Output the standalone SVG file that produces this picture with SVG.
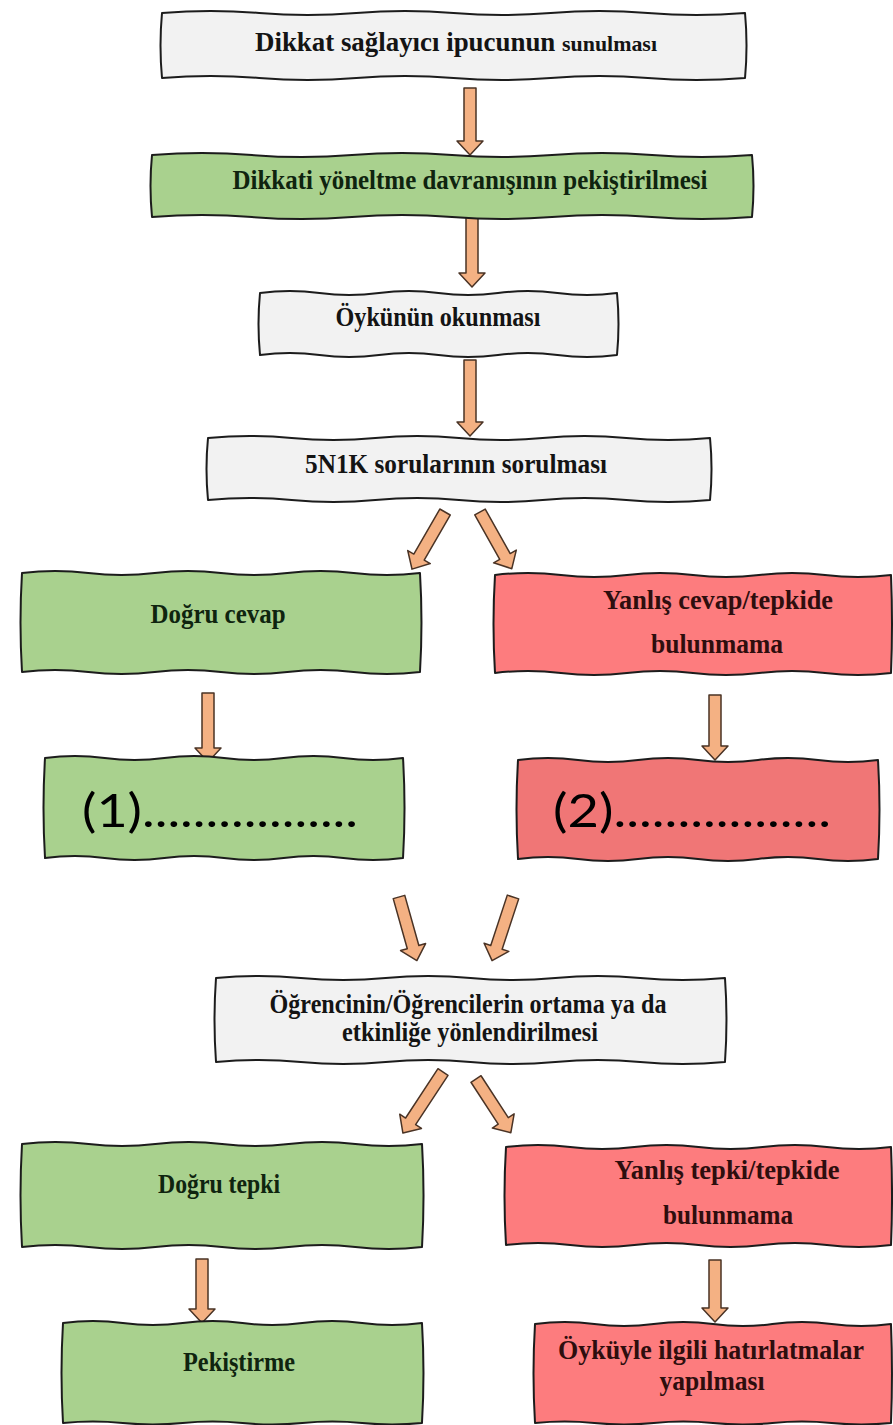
<svg xmlns="http://www.w3.org/2000/svg" width="893" height="1425" viewBox="0 0 893 1425">
<style>
.box{stroke:#1c1c1c;stroke-width:2;stroke-linejoin:round}
.gray{fill:#f2f2f2}
.green{fill:#a9d18e}
.red{fill:#fd7c7e}
.red2{fill:#f07676}
.t{font-family:"Liberation Serif","Times New Roman",serif;font-weight:bold;font-size:27px;text-anchor:middle}
.tg{fill:#141414}
.tgr{fill:#0f240f}
.tr{fill:#2e0e0e}
.big{font-family:"Lato","Open Sans","Liberation Sans",sans-serif;font-size:46px;fill:#000}
.arrow{fill:#f4b183;stroke:#4a3325;stroke-width:1.5;stroke-linejoin:round}
</style>
<rect width="893" height="1425" fill="#ffffff"/>

<g id="connectors">
<path class="arrow" d="M464,88 L476,88 L476,141 L483,141 L470,155 L457,141 L464,141 Z"/>
<path class="arrow" d="M466,217 L478,217 L478,273 L485,273 L472,287 L459,273 L466,273 Z"/>
<path class="arrow" d="M464,360 L476,360 L476,422 L483,422 L470,436 L457,422 L464,422 Z"/>
<path class="arrow" transform="translate(445,512) rotate(30)" d="M-6,0 L6,0 L6,52 L13,52 L0,66 L-13,52 L-6,52 Z"/>
<path class="arrow" transform="translate(480,512) rotate(-29.3)" d="M-6,0 L6,0 L6,51 L13,51 L0,65 L-13,51 L-6,51 Z"/>
<path class="arrow" d="M202,693 L214,693 L214,748 L221,748 L208,762 L195,748 L202,748 Z"/>
<path class="arrow" d="M709,695 L721,695 L721,746 L728,746 L715,760 L702,746 L709,746 Z"/>
<path class="arrow" transform="translate(399,897) rotate(-15.7)" d="M-6,0 L6,0 L6,52 L13,52 L0,66 L-13,52 L-6,52 Z"/>
<path class="arrow" transform="translate(513,897) rotate(18.2)" d="M-6,0 L6,0 L6,53 L13,53 L0,67 L-13,53 L-6,53 Z"/>
<path class="arrow" transform="translate(443,1072) rotate(33.3)" d="M-6,0 L6,0 L6,59 L13,59 L0,73 L-13,59 L-6,59 Z"/>
<path class="arrow" transform="translate(476,1079) rotate(-33)" d="M-6,0 L6,0 L6,50 L13,50 L0,64 L-13,50 L-6,50 Z"/>
<path class="arrow" d="M196,1259 L208,1259 L208,1309 L215,1309 L202,1323 L189,1309 L196,1309 Z"/>
<path class="arrow" d="M709,1260 L721,1260 L721,1308 L728,1308 L715,1322 L702,1308 L709,1308 Z"/>
</g>

<g id="n1">
<path class="box gray" d="M162,13 q48.58,-4 97.17,0 t97.17,0 t97.17,0 t97.17,0 t97.17,0 t97.17,0 q3,32.5 0,65 q-48.58,4 -97.17,0 t-97.17,0 t-97.17,0 t-97.17,0 t-97.17,0 t-97.17,0 q-3,-32.5 0,-65 Z"/>
<text class="t tg" x="456" y="51" textLength="402" lengthAdjust="spacingAndGlyphs">Dikkat sağlayıcı ipucunun <tspan font-size="22">sunulması</tspan></text>
</g>

<g id="n2">
<path class="box green" d="M152,155 q50,-4 100,0 t100,0 t100,0 t100,0 t100,0 t100,0 q3,31 0,62 q-50,4 -100,0 t-100,0 t-100,0 t-100,0 t-100,0 t-100,0 q-3,-31 0,-62 Z"/>
<text class="t tgr" x="470" y="189" textLength="475" lengthAdjust="spacingAndGlyphs">Dikkati yöneltme davranışının pekiştirilmesi</text>
</g>

<g id="n3">
<path class="box gray" d="M260,293 q29.75,-4 59.5,0 t59.5,0 t59.5,0 t59.5,0 t59.5,0 t59.5,0 q3,31 0,62 q-29.75,4 -59.5,0 t-59.5,0 t-59.5,0 t-59.5,0 t-59.5,0 t-59.5,0 q-3,-31 0,-62 Z"/>
<text class="t tg" x="438" y="326" textLength="205" lengthAdjust="spacingAndGlyphs">Öykünün okunması</text>
</g>

<g id="n4">
<path class="box gray" d="M208,438 q41.83,-4 83.67,0 t83.67,0 t83.67,0 t83.67,0 t83.67,0 t83.67,0 q3,31 0,62 q-41.83,4 -83.67,0 t-83.67,0 t-83.67,0 t-83.67,0 t-83.67,0 t-83.67,0 q-3,-31 0,-62 Z"/>
<text class="t tg" x="456" y="473" textLength="302" lengthAdjust="spacingAndGlyphs">5N1K sorularının sorulması</text>
</g>

<g id="n5">
<path class="box green" d="M22,573 q33.17,-4 66.33,0 t66.33,0 t66.33,0 t66.33,0 t66.33,0 t66.33,0 q3,49.5 0,99 q-33.17,4 -66.33,0 t-66.33,0 t-66.33,0 t-66.33,0 t-66.33,0 t-66.33,0 q-3,-49.5 0,-99 Z"/>
<text class="t tgr" x="218" y="623" textLength="135" lengthAdjust="spacingAndGlyphs">Doğru cevap</text>
</g>

<g id="n6">
<path class="box red" d="M495,575 q33,-4 66,0 t66,0 t66,0 t66,0 t66,0 t66,0 q2,49 0,98 q-33,4 -66,0 t-66,0 t-66,0 t-66,0 t-66,0 t-66,0 q-3,-49 0,-98 Z"/>
<text class="t tr" x="718" y="609" textLength="230" lengthAdjust="spacingAndGlyphs">Yanlış cevap/tepkide</text>
<text class="t tr" x="717" y="653" textLength="132" lengthAdjust="spacingAndGlyphs">bulunmama</text>
</g>

<g id="n7">
<path class="box green" d="M45,758 q29.83,-4 59.67,0 t59.67,0 t59.67,0 t59.67,0 t59.67,0 t59.67,0 q3,50 0,100 q-29.83,4 -59.67,0 t-59.67,0 t-59.67,0 t-59.67,0 t-59.67,0 t-59.67,0 q-3,-50 0,-100 Z"/>
<text class="big" x="82" y="827" textLength="276" lengthAdjust="spacingAndGlyphs">(1).................</text>
</g>

<g id="n8">
<path class="box red2" d="M518,760 q30,-4 60,0 t60,0 t60,0 t60,0 t60,0 t60,0 q3,49.5 0,99 q-30,4 -60,0 t-60,0 t-60,0 t-60,0 t-60,0 t-60,0 q-3,-49.5 0,-99 Z"/>
<text class="big" x="553" y="827" textLength="278" lengthAdjust="spacingAndGlyphs">(2).................</text>
</g>

<g id="n9">
<path class="box gray" d="M216,978 q42.42,-4 84.83,0 t84.83,0 t84.83,0 t84.83,0 t84.83,0 t84.83,0 q3,42 0,84 q-42.42,4 -84.83,0 t-84.83,0 t-84.83,0 t-84.83,0 t-84.83,0 t-84.83,0 q-3,-42 0,-84 Z"/>
<text class="t tg" x="468" y="1013" textLength="397" lengthAdjust="spacingAndGlyphs">Öğrencinin/Öğrencilerin ortama ya da</text>
<text class="t tg" x="470" y="1041" textLength="256" lengthAdjust="spacingAndGlyphs">etkinliğe yönlendirilmesi</text>
</g>

<g id="n10">
<path class="box green" d="M22,1144 q33.33,-4 66.67,0 t66.67,0 t66.67,0 t66.67,0 t66.67,0 t66.67,0 q3,51.5 0,103 q-33.33,4 -66.67,0 t-66.67,0 t-66.67,0 t-66.67,0 t-66.67,0 t-66.67,0 q-3,-51.5 0,-103 Z"/>
<text class="t tgr" x="219" y="1193" textLength="122" lengthAdjust="spacingAndGlyphs">Doğru tepki</text>
</g>

<g id="n11">
<path class="box red" d="M506,1147 q32.08,-4 64.17,0 t64.17,0 t64.17,0 t64.17,0 t64.17,0 t64.17,0 q2,49 0,98 q-32.08,4 -64.17,0 t-64.17,0 t-64.17,0 t-64.17,0 t-64.17,0 t-64.17,0 q-3,-49 0,-98 Z"/>
<text class="t tr" x="727" y="1179" textLength="225" lengthAdjust="spacingAndGlyphs">Yanlış tepki/tepkide</text>
<text class="t tr" x="728" y="1224" textLength="130" lengthAdjust="spacingAndGlyphs">bulunmama</text>
</g>

<g id="n12">
<path class="box green" d="M63,1323 q29.92,-4 59.83,0 t59.83,0 t59.83,0 t59.83,0 t59.83,0 t59.83,0 q3,50 0,100 q-29.92,3 -59.83,0 t-59.83,0 t-59.83,0 t-59.83,0 t-59.83,0 t-59.83,0 q-3,-50 0,-100 Z"/>
<text class="t tgr" x="239" y="1371" textLength="112" lengthAdjust="spacingAndGlyphs">Pekiştirme</text>
</g>

<g id="n13">
<path class="box red" d="M535,1324 q29.67,-4 59.33,0 t59.33,0 t59.33,0 t59.33,0 t59.33,0 t59.33,0 q2,49.5 0,99 q-29.67,3 -59.33,0 t-59.33,0 t-59.33,0 t-59.33,0 t-59.33,0 t-59.33,0 q-3,-49.5 0,-99 Z"/>
<text class="t tr" x="711" y="1359" textLength="306" lengthAdjust="spacingAndGlyphs">Öyküyle ilgili hatırlatmalar</text>
<text class="t tr" x="712" y="1390" textLength="105" lengthAdjust="spacingAndGlyphs">yapılması</text>
</g>
</svg>
